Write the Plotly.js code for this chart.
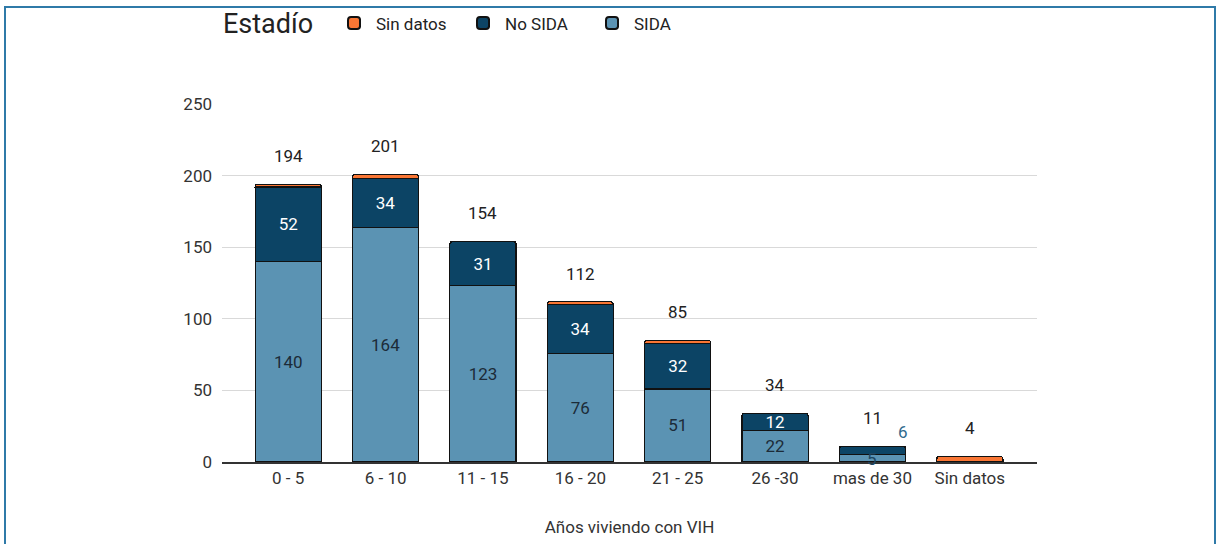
<!DOCTYPE html>
<html><head><meta charset="utf-8">
<script src="https://cdn.plot.ly/plotly-3.0.1.min.js"></script>
<style>
html,body{margin:0;padding:0;background:#fff;}
#chart{width:1219px;height:544px;}
#frame{position:absolute;left:4px;top:6px;width:1208px;height:560px;border:2px solid #2f7aa8;pointer-events:none;}
</style></head>
<body>
<div id="chart"></div>
<div id="frame"></div>
<script>
const categories = ['0 - 5','6 - 10','11 - 15','16 - 20','21 - 25','26 -30','mas de 30','Sin datos'];
const sida = [140,164,123,76,51,22,5,0];
const noSida = [52,34,31,34,32,12,6,0];
const sinDatos = [2,3,0,2,2,0,0,4];
const totals = [194,201,154,112,85,34,11,4];

const FONT = 'Roboto, Arial, sans-serif';
const lineStyle = {color:'#111', width:1.2};

const sidaText = sida.map(v => (v>=10 ? String(v) : ''));
const noSidaText = noSida.map(v => (v>=10 ? String(v) : ''));

const traces = [
  {type:'bar', name:'SIDA', x:categories, y:sida, marker:{color:'#5b93b3', line:lineStyle},
   text:sidaText, textposition:'inside', insidetextanchor:'middle', constraintext:'none', textangle:0,
   textfont:{color:'#1c2b38', size:17, family:FONT}, hoverinfo:'none', width:0.68},
  {type:'bar', name:'No SIDA', x:categories, y:noSida, marker:{color:'#0c4465', line:lineStyle},
   text:noSidaText, textposition:'inside', insidetextanchor:'middle', constraintext:'none', textangle:0,
   textfont:{color:'#ffffff', size:17, family:FONT}, hoverinfo:'none', width:0.68},
  {type:'bar', name:'Sin datos', x:categories, y:sinDatos, marker:{color:'#f97634', line:lineStyle},
   hoverinfo:'none', width:0.68}
];

const annotations = categories.map((c,i)=>({
  x:c, y:totals[i], xref:'x', yref:'y', text:String(totals[i]), showarrow:false,
  yshift:28, font:{size:17, color:'#222', family:FONT}
}));
annotations.push({x:categories[6], y:sida[6]+noSida[6], text:String(noSida[6]), showarrow:false,
  xshift:31, yshift:14, font:{size:17, color:'#2f6a8e', family:FONT}});
annotations.push({x:categories[6], y:sida[6]/2, text:String(sida[6]), showarrow:false,
  yshift:-1, font:{size:17, color:'#1d4662', family:FONT}});
// legend title
annotations.push({xref:'paper', yref:'paper', x:-0.001, y:1.2235, xanchor:'left', yanchor:'middle',
  text:'Estadío', showarrow:false, font:{size:27, color:'#222', family:FONT}});

const layout = {
  width:1219, height:544,
  margin:{l:222, r:182, t:104, b:82, autoexpand:false},
  paper_bgcolor:'#ffffff', plot_bgcolor:'#ffffff',
  font:{family:FONT, color:'#333', size:17},
  barmode:'stack', barcornerradius:3,
  showlegend:true,
  legend:{orientation:'h', x:0.135, xanchor:'left', y:1.275, yanchor:'top',
    traceorder:'reversed', font:{size:17, color:'#222'},
    entrywidth:80, entrywidthmode:'pixels', itemwidth:34, itemsizing:'constant'},
  xaxis:{type:'category', range:[-0.68,7.69], showgrid:false, showline:true,
    linecolor:'#333', linewidth:1.5, ticks:'', tickfont:{size:17, color:'#333'},
    title:{text:'Años viviendo con VIH', font:{size:17, color:'#333'}, standoff:34}},
  yaxis:{range:[0,250], dtick:50, showgrid:true, gridcolor:'#d9d9d9', gridwidth:1,
    zeroline:false, showline:false, ticks:'', tickfont:{size:17, color:'#333'}, ticklabelstandoff:9},
  annotations:annotations
};

Plotly.newPlot('chart', traces, layout, {displayModeBar:false, staticPlot:true});
</script>
</body></html>
